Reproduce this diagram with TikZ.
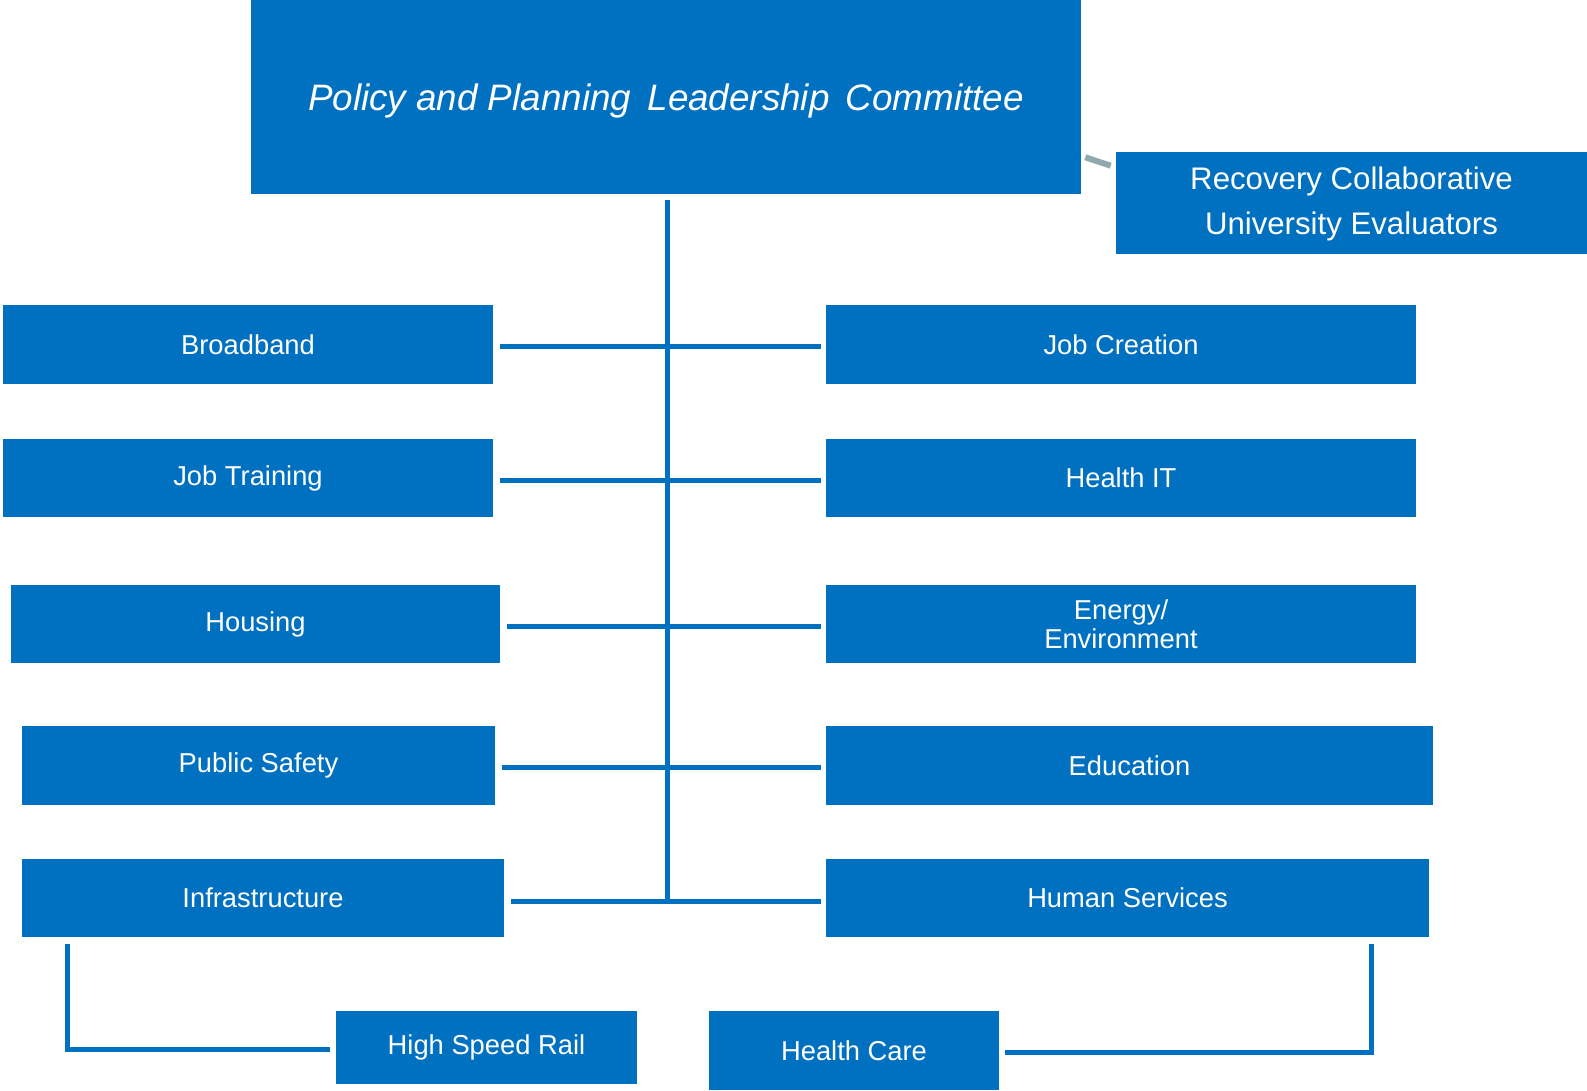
\documentclass[tikz,border=0pt]{standalone}
\usepackage{fontspec}
\setmainfont{Liberation Sans}
\usetikzlibrary{calc}
\definecolor{boxblue}{HTML}{0070C0}
\definecolor{linkgrey}{HTML}{8FA9AE}
\tikzset{
  box/.style={fill=boxblue, draw=none, inner sep=0pt, text=white, align=center,
    font=\fontsize{20.5pt}{24pt}\selectfont},
  sz/.style 2 args={minimum width={#1*0.75pt}, minimum height={#2*0.75pt}},
  conn/.style={draw=boxblue, line width=3.75pt},
  hconn/.style={conn, shorten <=5.25pt, shorten >=3.75pt},
}
\begin{document}
\begin{tikzpicture}[x=0.75pt,y=-0.75pt]
\useasboundingbox (0,0) rectangle (1587,1090);
% top
\node[box, sz={830}{194}, text height=26pt, text depth=5.8pt, font=\fontsize{27.6pt}{32pt}\selectfont\itshape] (top) at (666,97) {Policy and Planning\ \,Leadership\ \,Committee};
\node[box, sz={471}{102}, font=\fontsize{23.4pt}{34pt}\selectfont] (rec) at (1351.5,203) {\raisebox{-4.5pt}{\begin{tabular}{@{}c@{}}Recovery Collaborative\\University Evaluators\end{tabular}}};
% left column
\node[box, sz={490}{79}] (bb) at (248,344.5) {Broadband};
\node[box, sz={490}{78}] (jt) at (248,478) {Job Training};
\node[box, sz={489}{78}] (hou) at (255.5,624) {Housing};
\node[box, sz={473}{79}] (ps) at (258.5,765.5) {Public Safety};
\node[box, sz={482}{78}] (inf) at (263,898) {Infrastructure};
% right column
\node[box, sz={590}{79}] (jc) at (1121,344.5) {Job Creation};
\node[box, sz={590}{78}] (hit) at (1121,478) {Health IT};
\node[box, sz={590}{78}, font=\fontsize{20.5pt}{21.5pt}\selectfont] (en) at (1121,624) {Energy/\\Environment};
\node[box, sz={607}{79}] (edu) at (1129.5,765.5) {Education};
\node[box, sz={603}{78}] (hs) at (1127.5,898) {Human Services};
% bottom
\node[box, sz={301}{73}] (hsr) at (486.5,1047.5) {High Speed Rail};
\node[box, sz={290}{79}] (hc) at (854,1050.5) {Health Care};
% connectors
\coordinate (trunkend) at (667,903);
\draw[conn] ($(top.south)+(1,6)$) -- (trunkend);
\draw[hconn] ($(bb.east)+(0,1.5)$) -- ($(jc.west)+(0,1.5)$);
\draw[hconn] ($(jt.east)+(0,2)$) -- ($(hit.west)+(0,2)$);
\draw[hconn] ($(hou.east)+(0,2)$) -- ($(en.west)+(0,2)$);
\draw[hconn] ($(ps.east)+(0,1.5)$) -- ($(edu.west)+(0,1.5)$);
\draw[hconn] ($(inf.east)+(0,3)$) -- ($(hs.west)+(0,3)$);
\draw[conn] ($(inf.south west)+(46,7)$) |- ($(hsr.west)+(-6,1.5)$);
\draw[conn] ($(hc.east)+(6,1.5)$) -| ($(hs.south west)+(546,7)$);
\draw[draw=linkgrey, line width=4.5pt] ($(top.south east)+(4,-37)$) -- ($(rec.north west)+(-5,14)$);
\end{tikzpicture}
\end{document}
